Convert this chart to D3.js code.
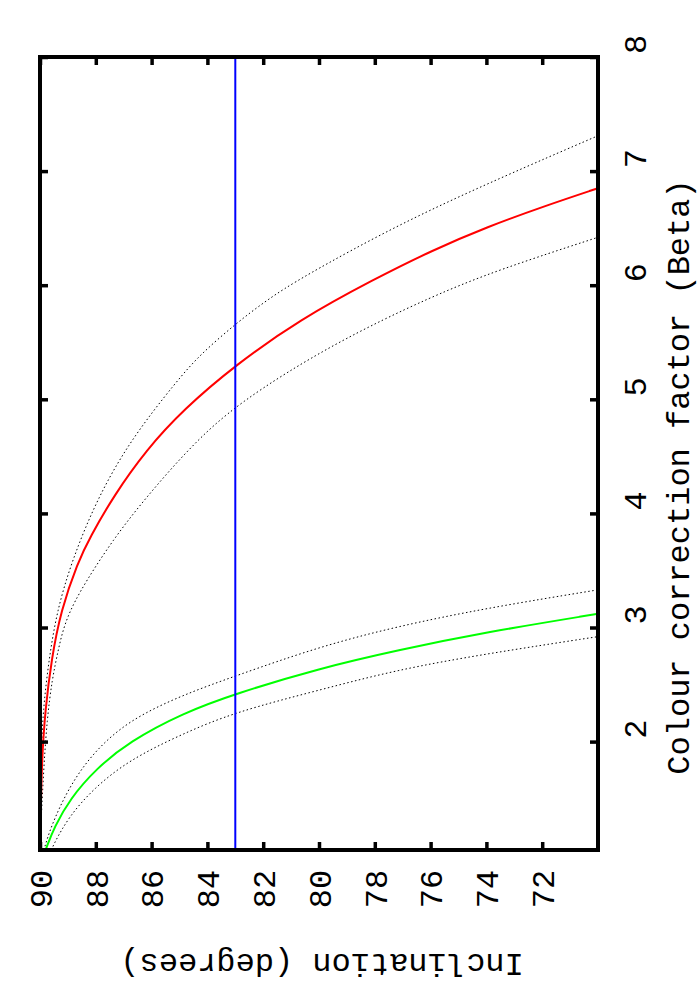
<!DOCTYPE html>
<html>
<head>
<meta charset="utf-8">
<script src="https://cdn.jsdelivr.net/npm/d3@7"></script>
<style>
  body { margin: 0; background: #fff; }
</style>
</head>
<body>
<script>
// values: [inclination (deg), beta]
var betaTicks = [2, 3, 4, 5, 6, 7, 8]
var incTicks = [90, 88, 86, 84, 82, 80, 78, 76, 74, 72]
var blueInc = 83

var redMid = [[90,1.05],[89.94,1.84],[89.81,2.28],[89.59,2.72],[89.25,3.15],[88.65,3.57],[88.21,3.79],
  [87.37,4.15],[86.18,4.56],[84.86,4.91],[83.0,5.30],[80.68,5.70],[78.05,6.05],[75.90,6.31],
  [73.99,6.51],[71.84,6.70],[70,6.85]]
var redHigh = [[90,1.05],[89.97,1.84],[89.89,2.28],[89.68,2.72],[89.39,3.15],[88.85,3.59],[87.97,4.12],
  [86.77,4.64],[85.10,5.16],[84.27,5.39],[83.0,5.66],[81.87,5.87],[80.68,6.06],[77.10,6.54],
  [73.51,6.94],[70,7.31]]
var redLow = [[90,1.05],[89.96,1.31],[89.87,1.75],[89.75,2.19],[89.57,2.54],[89.35,2.80],[89.14,3.02],
  [88.68,3.28],[87.37,3.78],[86.06,4.18],[84.62,4.58],[82.97,4.96],[79.49,5.49],[75.90,5.91],
  [73.51,6.14],[70,6.42]]

var greenMid = [[89.80,1.05],[89.77,1.07],[89.49,1.25],[88.92,1.50],[88.00,1.76],[86.8,2.00],[84.88,2.25],
  [83.0,2.42],[80.01,2.64],[77.2,2.80],[74.0,2.96],[70,3.12]]
var greenHigh = [[89.86,1.05],[89.62,1.25],[88.97,1.60],[88.08,1.91],[86.8,2.19],[84.88,2.41],
  [83.0,2.575],[80.01,2.83],[77.2,3.01],[74.0,3.17],[70,3.33]]
var greenLow = [[89.59,1.05],[89.49,1.11],[88.97,1.34],[88.08,1.59],[86.8,1.84],[84.88,2.07],
  [83.0,2.26],[80.01,2.45],[77.2,2.63],[74.0,2.77],[70,2.92]]

var font = "'Liberation Mono', 'DejaVu Sans Mono', monospace"
var tickSize = 32
var titleSize = 32

var svg = d3.select("body").append("svg")
  .attr("width", 700)
  .attr("height", 1000)

// whole chart is drawn turned a quarter: beta runs up the page, inclination across it
var x = d3.scaleLinear().domain([90, 70]).range([40, 598])
var y = d3.scaleLinear().domain([1.05, 8]).range([850, 57])

var line = d3.line()
  .x(function(d) { return x(d[0]) })
  .y(function(d) { return y(d[1]) })
  .curve(d3.curveBasis)

var plot = svg.append("g")

// dotted error bounds
;[redHigh, redLow, greenHigh, greenLow].forEach(function(s) {
  plot.append("path")
    .attr("d", line(s))
    .attr("fill", "none")
    .attr("stroke", "#000")
    .attr("stroke-width", 1)
    .attr("stroke-dasharray", "1.5,2.5")
})

plot.append("path").attr("d", line(redMid))
  .attr("fill", "none").attr("stroke", "#ff0000").attr("stroke-width", 2)
plot.append("path").attr("d", line(greenMid))
  .attr("fill", "none").attr("stroke", "#00ff00").attr("stroke-width", 2)

plot.append("line")
  .attr("x1", x(blueInc)).attr("x2", x(blueInc))
  .attr("y1", y(8)).attr("y2", y(1.05))
  .attr("stroke", "#0000ff").attr("stroke-width", 2)

// ticks, mirrored on all four sides
function cleanAxis(g) {
  g.select(".domain").remove()
  g.attr("font-family", font).attr("font-size", tickSize)
  g.selectAll(".tick line").attr("stroke", "#000").attr("stroke-width", 3.5)
}

svg.append("g")
  .attr("transform", "translate(0,850)")
  .call(d3.axisTop(x).tickValues(incTicks).tickSize(8).tickFormat(d3.format("d")))
  .call(cleanAxis)
  .selectAll("text")
    .attr("y", null)
    .attr("dy", "0.35em")
    .attr("fill", "#000")
    .attr("text-anchor", "middle")
    .attr("transform", "translate(0,39) rotate(-90)")

svg.append("g")
  .attr("transform", "translate(0,57)")
  .call(d3.axisBottom(x).tickValues(incTicks).tickSize(8).tickFormat(""))
  .call(cleanAxis)

svg.append("g")
  .attr("transform", "translate(598,0)")
  .call(d3.axisLeft(y).tickValues(betaTicks).tickSize(8).tickFormat(d3.format("d")))
  .call(cleanAxis)
  .selectAll("text")
    .attr("x", null)
    .attr("dy", "0.35em")
    .attr("fill", "#000")
    .attr("text-anchor", "middle")
    .attr("transform", "translate(37,-13) rotate(-90)")

svg.append("g")
  .attr("transform", "translate(40,0)")
  .call(d3.axisRight(y).tickValues(betaTicks).tickSize(8).tickFormat(""))
  .call(cleanAxis)

// frame
svg.append("rect")
  .attr("x", 40).attr("y", 57)
  .attr("width", 558).attr("height", 793)
  .attr("fill", "none")
  .attr("stroke", "#000")
  .attr("stroke-width", 4)

// axis titles
svg.append("text")
  .attr("transform", "translate(678,477) rotate(-90)")
  .attr("text-anchor", "middle")
  .attr("dy", "0.35em")
  .attr("font-family", font).attr("font-size", titleSize)
  .text("Colour correction factor (Beta)")

svg.append("text")
  .attr("transform", "translate(322,965) rotate(180)")
  .attr("text-anchor", "middle")
  .attr("dy", "0.35em")
  .attr("font-family", font).attr("font-size", titleSize)
  .text("Inclination (degrees)")
</script>
</body>
</html>
